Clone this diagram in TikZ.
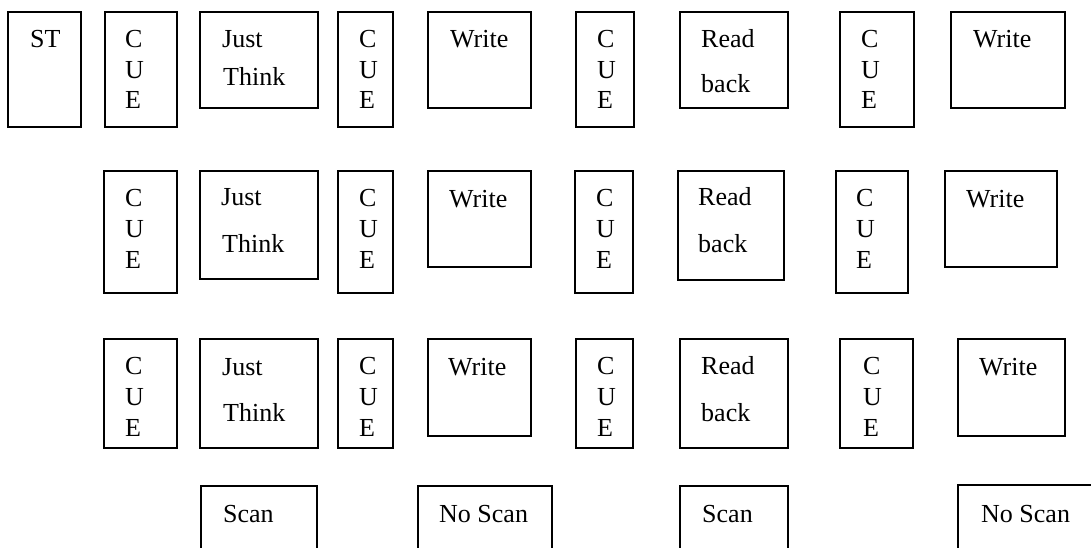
\documentclass[tikz,border=0pt]{standalone}
\usepackage{fontspec}
\setmainfont{Liberation Serif}
\begin{document}
\begin{tikzpicture}[x=1pt,y=-1pt,
  box/.style={draw=black, line width=1.4pt, inner sep=0pt, outer sep=0pt, anchor=north west},
  txt/.style={inner sep=0pt, anchor=base west, font=\fontsize{26}{30}\selectfont}]
\clip (0,0) rectangle (1091,547);
\fill[white] (0,0) rectangle (1091,547);
\newcommand\bx[5]{\node[box, minimum width={(#4-#2)*1pt}, minimum height={(#5-#3)*1pt}] (#1) at (#2,#3) {};}
\newcommand\tx[4]{\node[txt] (#1) at (#2,#3) {#4};}
\newcommand\cue[5]{\tx{#1c}{#2}{#3}{C}\tx{#1u}{#2}{#4}{U}\tx{#1e}{#2}{#5}{E}}
% Row 1
\bx{st}{8}{12}{81}{127}\tx{stt}{30}{47}{ST}
\bx{c11}{105}{12}{177}{127}\cue{c11t}{125}{47}{78}{108}
\bx{j1}{200}{12}{318}{108}\tx{j1a}{222}{47}{Just}\tx{j1b}{223}{85}{Think}
\bx{c12}{338}{12}{393}{127}\cue{c12t}{359}{47}{78}{108}
\bx{w11}{428}{12}{531}{108}\tx{w11t}{450}{47}{Write}
\bx{c13}{576}{12}{634}{127}\cue{c13t}{597}{47}{78}{108}
\bx{r1}{680}{12}{788}{108}\tx{r1a}{701}{47}{Read}\tx{r1b}{701}{92}{back}
\bx{c14}{840}{12}{914}{127}\cue{c14t}{861}{47}{78}{108}
\bx{w12}{951}{12}{1065}{108}\tx{w12t}{973}{47}{Write}
% Row 2
\bx{c21}{104}{171}{177}{293}\cue{c21t}{125}{206}{237}{268}
\bx{j2}{200}{171}{318}{279}\tx{j2a}{221}{205}{Just}\tx{j2b}{222}{252}{Think}
\bx{c22}{338}{171}{393}{293}\cue{c22t}{359}{206}{237}{268}
\bx{w21}{428}{171}{531}{267}\tx{w21t}{449}{207}{Write}
\bx{c23}{575}{171}{633}{293}\cue{c23t}{596}{206}{237}{268}
\bx{r2}{678}{171}{784}{280}\tx{r2a}{698}{205}{Read}\tx{r2b}{698}{252}{back}
\bx{c24}{836}{171}{908}{293}\cue{c24t}{856}{206}{237}{268}
\bx{w22}{945}{171}{1057}{267}\tx{w22t}{966}{207}{Write}
% Row 3
\bx{c31}{104}{339}{177}{448}\cue{c31t}{125}{374}{405}{436}
\bx{j3}{200}{339}{318}{448}\tx{j3a}{222}{375}{Just}\tx{j3b}{223}{421}{Think}
\bx{c32}{338}{339}{393}{448}\cue{c32t}{359}{374}{405}{436}
\bx{w31}{428}{339}{531}{436}\tx{w31t}{448}{375}{Write}
\bx{c33}{576}{339}{633}{448}\cue{c33t}{597}{374}{405}{436}
\bx{r3}{680}{339}{788}{448}\tx{r3a}{701}{374}{Read}\tx{r3b}{701}{421}{back}
\bx{c34}{840}{339}{913}{448}\cue{c34t}{863}{374}{405}{436}
\bx{w32}{958}{339}{1065}{436}\tx{w32t}{979}{375}{Write}
% Row 4
\bx{s1}{201}{486}{317}{570}\tx{s1t}{223}{522}{Scan}
\bx{n1}{418}{486}{552}{570}\tx{n1t}{439}{522}{No Scan}
\bx{s2}{680}{486}{788}{570}\tx{s2t}{702}{522}{Scan}
\bx{n2}{958}{485}{1110}{570}\tx{n2t}{981}{522}{No Scan}
\end{tikzpicture}
\end{document}
